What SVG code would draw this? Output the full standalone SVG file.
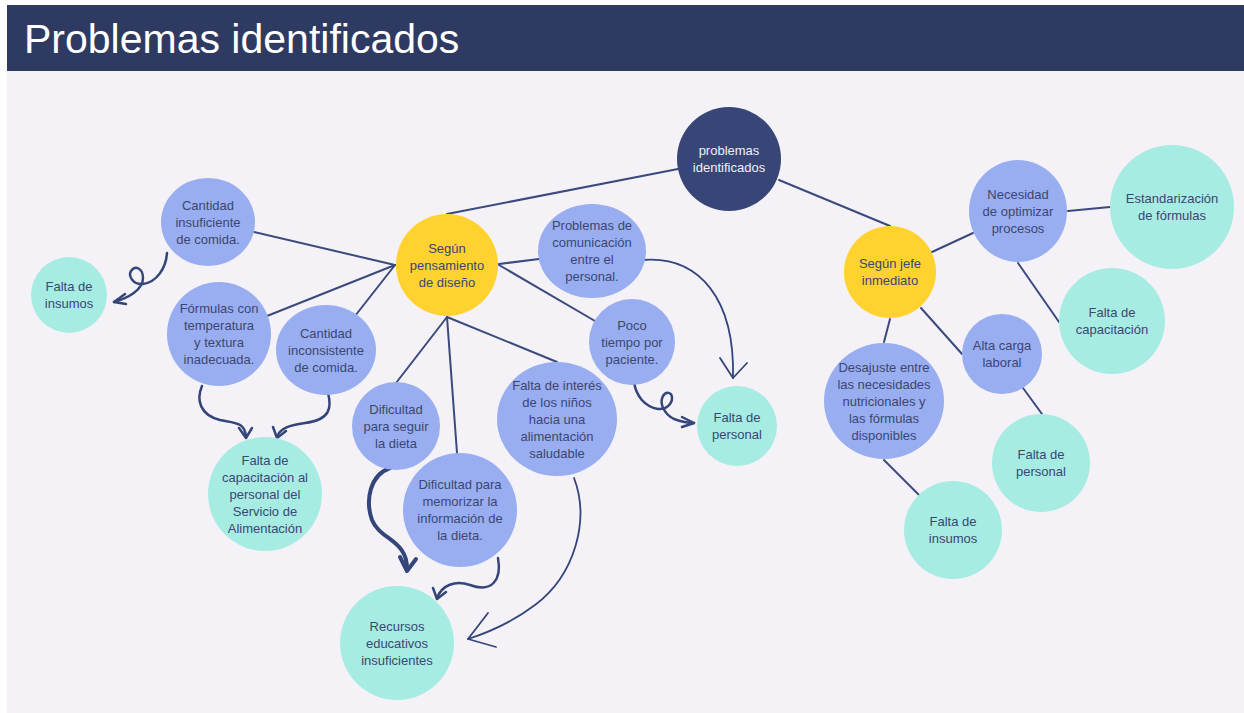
<svg xmlns="http://www.w3.org/2000/svg" width="1244" height="713" viewBox="0 0 1244 713">
<style>
.t{font-family:"Liberation Sans",Arial,sans-serif;font-size:13px;fill:#3b4673;text-anchor:middle}
.w{fill:#eef0f6}
.blue{fill:#99aef0}
.teal{fill:#a6ece3}
.yel{fill:#ffd230}
.root{fill:#374677}
.ln{stroke:#3a4a7d;stroke-width:2;fill:none;stroke-linecap:round}
.ar{stroke:#34457a;stroke-width:2.5;fill:none;stroke-linecap:round;stroke-linejoin:round}
.th{stroke-width:4}
.sk{stroke-width:1.8}
</style>
<rect x="0" y="0" width="1244" height="713" fill="#ffffff"/>
<rect x="7" y="71" width="1237" height="642" fill="#f4f2f6"/>
<rect x="7" y="5" width="1237" height="66" fill="#2f3a62"/>
<text x="24" y="53" font-family="'Liberation Sans',Arial,sans-serif" font-size="41" fill="#ffffff">Problemas identificados</text>

<g id="connectors">
<path class="ln" d="M678,169 L447,214"/>
<path class="ln" d="M779,180 L890,226"/>
<path class="ln" d="M254,232 L395,265"/>
<path class="ln" d="M267,316 L395,265"/>
<path class="ln" d="M355,316 L395,265"/>
<path class="ln" d="M447,317 L396,383"/>
<path class="ln" d="M447,317 L457,453"/>
<path class="ln" d="M447,317 L557,362"/>
<path class="ln" d="M499,264 L539,259"/>
<path class="ln" d="M499,265 L595,321"/>
<path class="ln" d="M932,252 L973,233"/>
<path class="ln" d="M1068,211 L1110,207"/>
<path class="ln" d="M1018,263 L1059,322"/>
<path class="ln" d="M890,319 L884,342"/>
<path class="ln" d="M921,308 L962,354"/>
<path class="ln" d="M1023,388 L1042,414"/>
<path class="ln" d="M884,460 L919,495"/>
<path class="ar" d="M167,253 C166,268 157,282 143,284 C133,285 128,276 131,271 C135,265 143,268 143,278 C143,290 128,298 114,302"/>
<path class="ar" d="M125,294 L114,302 L126,304"/>
<path class="ar" d="M202,386 C196,400 200,415 220,420 C235,423 245,422 246,437"/>
<path class="ar" d="M239,428 L246,438 L252,428"/>
<path class="ar" d="M328,393 C332,408 330,420 305,423 C290,425 280,428 277,437"/>
<path class="ar" d="M273,427 L277,438 L286,431"/>
<path class="ar th" d="M390,468 C370,475 365,500 372,520 C380,540 408,540 407,570"/>
<path class="ar th" d="M400,557 L407,571 L416,559"/>
<path class="ar" d="M498,558 C502,580 492,593 470,585 C455,580 442,585 437,598"/>
<path class="ar" d="M433,588 L437,599 L446,592"/>
<path class="ar sk" d="M574,478 C590,520 575,575 535,605 C515,620 490,632 468,639"/>
<path class="ar sk" d="M488,613 L468,639 L496,647"/>
<path class="ar sk" d="M642,260 C700,255 735,300 733,378"/>
<path class="ar sk" d="M720,358 L733,378 L747,363"/>
<path class="ar" d="M634,382 C636,396 645,407 658,409 C666,410 672,404 672,398 C672,392 666,391 663,396 C659,403 664,414 674,419 C682,422 688,423 694,423"/>
<path class="ar" d="M682,417 L694,423 L682,427"/>
</g>

<g id="n-root"><circle class="root" cx="729" cy="159" r="52"/><text class="t w"><tspan x="729" y="155">problemas</tspan><tspan x="729" y="172">identificados</tspan></text></g>
<g id="n-diseno"><circle class="yel" cx="447" cy="265" r="51"/><text class="t"><tspan x="447" y="252.5">Según</tspan><tspan x="447" y="269.5">pensamiento</tspan><tspan x="447" y="286.5">de diseño</tspan></text></g>
<g id="n-comunicacion"><ellipse class="blue" cx="592" cy="251" rx="54" ry="47"/><text class="t"><tspan x="592" y="230">Problemas de</tspan><tspan x="592" y="247">comunicación</tspan><tspan x="592" y="264">entre el</tspan><tspan x="592" y="281">personal.</tspan></text></g>
<g id="n-poco"><circle class="blue" cx="632" cy="342" r="43"/><text class="t"><tspan x="632" y="329.5">Poco</tspan><tspan x="632" y="346.5">tiempo por</tspan><tspan x="632" y="363.5">paciente.</tspan></text></g>
<g id="n-interes"><ellipse class="blue" cx="557" cy="419" rx="60" ry="57"/><text class="t"><tspan x="557" y="389.5">Falta de interés</tspan><tspan x="557" y="406.5">de los niños</tspan><tspan x="557" y="423.5">hacia una</tspan><tspan x="557" y="440.5">alimentación</tspan><tspan x="557" y="457.5">saludable</tspan></text></g>
<g id="n-seguir"><circle class="blue" cx="396" cy="426" r="44"/><text class="t"><tspan x="396" y="413.5">Dificultad</tspan><tspan x="396" y="430.5">para seguir</tspan><tspan x="396" y="447.5">la dieta</tspan></text></g>
<g id="n-memorizar"><circle class="blue" cx="460" cy="510" r="57"/><text class="t"><tspan x="460" y="489">Dificultad para</tspan><tspan x="460" y="506">memorizar la</tspan><tspan x="460" y="523">información de</tspan><tspan x="460" y="540">la dieta.</tspan></text></g>
<g id="n-recursos"><circle class="teal" cx="397" cy="643" r="57"/><text class="t"><tspan x="397" y="630.5">Recursos</tspan><tspan x="397" y="647.5">educativos</tspan><tspan x="397" y="664.5">insuficientes</tspan></text></g>
<g id="n-capacitacion-al"><circle class="teal" cx="265" cy="494" r="57"/><text class="t"><tspan x="265" y="464.5">Falta de</tspan><tspan x="265" y="481.5">capacitación al</tspan><tspan x="265" y="498.5">personal del</tspan><tspan x="265" y="515.5">Servicio de</tspan><tspan x="265" y="532.5">Alimentación</tspan></text></g>
<g id="n-insuficiente"><ellipse class="blue" cx="208" cy="222" rx="47" ry="44"/><text class="t"><tspan x="208" y="209.5">Cantidad</tspan><tspan x="208" y="226.5">insuficiente</tspan><tspan x="208" y="243.5">de comida.</tspan></text></g>
<g id="n-insumos-l"><circle class="teal" cx="69" cy="295" r="38"/><text class="t"><tspan x="69" y="291">Falta de</tspan><tspan x="69" y="308">insumos</tspan></text></g>
<g id="n-formulas"><circle class="blue" cx="219" cy="334" r="52"/><text class="t"><tspan x="219" y="313">Fórmulas con</tspan><tspan x="219" y="330">temperatura</tspan><tspan x="219" y="347">y textura</tspan><tspan x="219" y="364">inadecuada.</tspan></text></g>
<g id="n-inconsistente"><ellipse class="blue" cx="326" cy="350" rx="50" ry="45"/><text class="t"><tspan x="326" y="337.5">Cantidad</tspan><tspan x="326" y="354.5">inconsistente</tspan><tspan x="326" y="371.5">de comida.</tspan></text></g>
<g id="n-personal-m"><circle class="teal" cx="737" cy="426" r="40"/><text class="t"><tspan x="737" y="422">Falta de</tspan><tspan x="737" y="439">personal</tspan></text></g>
<g id="n-jefe"><circle class="yel" cx="890" cy="272" r="46"/><text class="t"><tspan x="890" y="268">Según jefe</tspan><tspan x="890" y="285">inmediato</tspan></text></g>
<g id="n-necesidad"><ellipse class="blue" cx="1018" cy="211" rx="49" ry="51"/><text class="t"><tspan x="1018" y="198.5">Necesidad</tspan><tspan x="1018" y="215.5">de optimizar</tspan><tspan x="1018" y="232.5">procesos</tspan></text></g>
<g id="n-estandarizacion"><circle class="teal" cx="1172" cy="207" r="62"/><text class="t"><tspan x="1172" y="203">Estandarización</tspan><tspan x="1172" y="220">de fórmulas</tspan></text></g>
<g id="n-capacitacion-r"><circle class="teal" cx="1112" cy="321" r="53"/><text class="t"><tspan x="1112" y="317">Falta de</tspan><tspan x="1112" y="334">capacitación</tspan></text></g>
<g id="n-carga"><circle class="blue" cx="1002" cy="354" r="40"/><text class="t"><tspan x="1002" y="350">Alta carga</tspan><tspan x="1002" y="367">laboral</tspan></text></g>
<g id="n-desajuste"><ellipse class="blue" cx="884" cy="401" rx="60" ry="58"/><text class="t"><tspan x="884" y="371.5">Desajuste entre</tspan><tspan x="884" y="388.5">las necesidades</tspan><tspan x="884" y="405.5">nutricionales y</tspan><tspan x="884" y="422.5">las fórmulas</tspan><tspan x="884" y="439.5">disponibles</tspan></text></g>
<g id="n-personal-r"><circle class="teal" cx="1041" cy="463" r="49"/><text class="t"><tspan x="1041" y="459">Falta de</tspan><tspan x="1041" y="476">personal</tspan></text></g>
<g id="n-insumos-r"><circle class="teal" cx="953" cy="530" r="49"/><text class="t"><tspan x="953" y="526">Falta de</tspan><tspan x="953" y="543">insumos</tspan></text></g>
</svg>
